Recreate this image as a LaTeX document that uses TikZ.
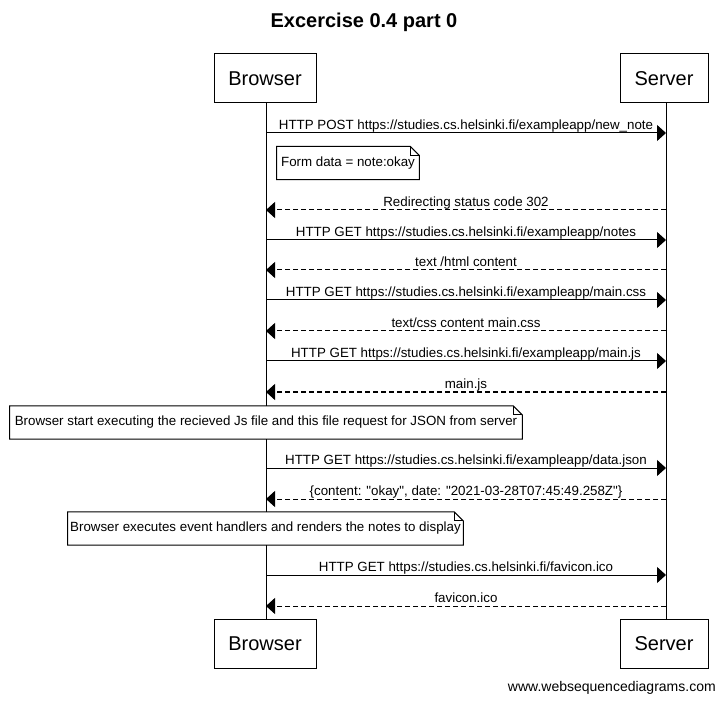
\documentclass[tikz,border=0pt]{standalone}
\usepackage{fontspec}
\setmainfont{Liberation Sans}[Ligatures=TeXOff]
\usetikzlibrary{arrows.meta,calc}
\newcommand{\msgR}[3]{%
  \coordinate (b#1) at (266,#2);
  \coordinate (s#1) at (666,#2);
  \draw[msg] (b#1) -- (s#1);
  \node[lbl] (l#1) at (466,#2-3.5) {#3};}
\newcommand{\msgL}[3]{%
  \coordinate (b#1) at (266,#2);
  \coordinate (s#1) at (666,#2);
  \draw[reply] (s#1) -- (b#1);
  \node[lbl] (l#1) at (466,#2-3.5) {#3};}
\newcommand{\notefold}[1]{%
  \draw[line width=0.75pt] (#1.north west) -- ($(#1.north east)+(-9,0)$) -- ($(#1.north east)+(0,9)$) -- (#1.south east) -- (#1.south west) -- cycle;
  \draw[line width=0.75pt] ($(#1.north east)+(-9,0)$) -- ($(#1.north east)+(-9,9)$) -- ($(#1.north east)+(0,9)$);}
\begin{document}
\begin{tikzpicture}[x=0.75pt,y=-0.75pt,
  actor/.style={draw, line width=0.75pt, fill=white, minimum height=36.75pt, inner sep=0pt, font=\fontsize{15}{18}\selectfont},
  msg/.style={line width=0.75pt, -{Triangle[length=6.75pt,width=12pt]}},
  reply/.style={msg, dash pattern=on 3.5pt off 2.5pt},
  lbl/.style={anchor=base, inner sep=0pt, font=\fontsize{10}{12}\selectfont},
  notebox/.style={fill=white, inner sep=0pt, minimum height=24.5pt, font=\fontsize{10}{12}\selectfont},
  life/.style={line width=0.75pt}]
\path[fill=white,use as bounding box] (0,0) rectangle (725,702);
\node[font=\bfseries\fontsize{15}{18}\selectfont] (title) at (364,22) {Excercise 0.4 part 0};
\coordinate (bl) at (266,0);
\coordinate (sl) at (666,0);
\node[actor, minimum width=76.5pt] (bt) at (265,78.5) {Browser};
\node[actor, minimum width=66pt] (st) at (664,78.5) {Server};
\node[actor, minimum width=76.5pt] (bb) at (265,644) {Browser};
\node[actor, minimum width=66pt] (sb) at (664,644) {Server};
\draw[life] (bt.south -| bl) -- (bb.north -| bl);
\draw[life] (st.south -| sl) -- (sb.north -| sl);
\msgR{1}{133}{HTTP POST https://studies.cs.helsinki.fi/exampleapp/new\_note}
\node[notebox, minimum width=106.5pt] (n1) at (348,163) {Form data = note:okay};
\notefold{n1}
\msgL{2}{210}{Redirecting status code 302}
\msgR{3}{240}{HTTP GET https://studies.cs.helsinki.fi/exampleapp/notes}
\msgL{4}{270}{text /html content}
\msgR{5}{300}{HTTP GET https://studies.cs.helsinki.fi/exampleapp/main.css}
\msgL{6}{331}{text/css content main.css}
\msgR{7}{361}{HTTP GET https://studies.cs.helsinki.fi/exampleapp/main.js}
\msgL{8}{392}{main.js}
\node[notebox, minimum width=384pt] (n2) at (266,422.5) {Browser start executing the recieved Js file and this file request for JSON from server};
\notefold{n2}
\msgR{9}{468}{HTTP GET https://studies.cs.helsinki.fi/exampleapp/data.json}
\msgL{10}{499}{\{content: "okay", date: "2021-03-28T07:45:49.258Z"\}}
\node[notebox, minimum width=296.25pt] (n3) at (265.5,528.5) {Browser executes event handlers and renders the notes to display};
\notefold{n3}
\msgR{11}{575}{HTTP GET https://studies.cs.helsinki.fi/favicon.ico}
\msgL{12}{606}{favicon.ico}
\node[anchor=east, inner sep=0pt, font=\fontsize{10.5}{12}\selectfont] (foot) at (716,688) {www.websequencediagrams.com};
\end{tikzpicture}
\end{document}
